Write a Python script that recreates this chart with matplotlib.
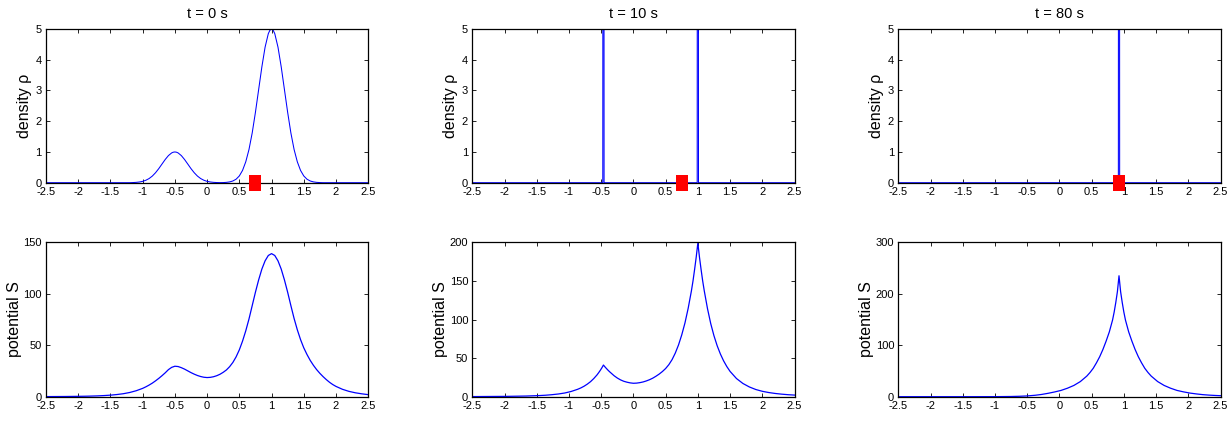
import matplotlib
matplotlib.use("Agg")
import matplotlib.pyplot as plt

plt.rcParams['font.family'] = ['Liberation Sans', 'DejaVu Sans']
plt.rcParams['axes.unicode_minus'] = False

titles = ['t = 0 s', 't = 10 s', 't = 80 s']

# density rho, t = 0
rho0_x = [-2.5, -1.2, -1.15, -1.1, -1.05, -1.0, -0.95, -0.9, -0.85, -0.8, -0.75, -0.7,
          -0.65, -0.6, -0.55, -0.525, -0.5, -0.475, -0.45, -0.4, -0.35, -0.3, -0.25, -0.2,
          -0.15, -0.1, -0.05, 0.0, 0.05, 0.1, 0.15, 0.2, 0.25, 0.3, 0.35, 0.4, 0.45, 0.5,
          0.55, 0.6, 0.65, 0.7, 0.75, 0.8, 0.85, 0.9, 0.95, 0.975, 1.0, 1.025, 1.05, 1.1,
          1.15, 1.2, 1.25, 1.3, 1.35, 1.4, 1.45, 1.5, 1.55, 1.6, 1.65, 1.7, 1.75, 1.8, 2.5]
rho0_y = [0, 0, 0.005, 0.011, 0.023, 0.044, 0.08, 0.135, 0.216, 0.325, 0.458, 0.607,
          0.755, 0.882, 0.969, 0.992, 1.0, 0.992, 0.969, 0.882, 0.755, 0.607, 0.458, 0.325,
          0.216, 0.135, 0.08, 0.044, 0.023, 0.011, 0.005, 0.002, 0.004, 0.011, 0.026, 0.056, 0.114, 0.22,
          0.40, 0.68, 1.08, 1.62, 2.29, 3.03, 3.77, 4.41, 4.85, 4.96, 5.0, 4.96, 4.85, 4.41,
          3.77, 3.03, 2.29, 1.62, 1.08, 0.68, 0.40, 0.22, 0.114, 0.056, 0.026, 0.011, 0.004, 0, 0]

# density rho, t = 10 (two collapsed spikes)
rho10_x = [-2.5, -0.475, -0.465, -0.455, 0.99, 1.0, 1.01, 2.5]
rho10_y = [0, 0, 60, 0, 0, 60, 0, 0]

# density rho, t = 80 (one spike)
rho80_x = [-2.5, 0.915, 0.925, 0.935, 2.5]
rho80_y = [0, 0, 60, 0, 0]

# potential S, t = 0
s0_x = [-2.5, -2.2, -2.0, -1.9, -1.8, -1.7, -1.6, -1.5, -1.4, -1.3, -1.2, -1.1,
        -1.0, -0.95, -0.9, -0.85, -0.8, -0.75, -0.7, -0.65, -0.6, -0.55, -0.5, -0.45,
        -0.4, -0.35, -0.3, -0.25, -0.2, -0.15, -0.1, -0.05, 0.0, 0.05, 0.1, 0.15,
        0.2, 0.25, 0.3, 0.35, 0.4, 0.45, 0.5, 0.55, 0.6, 0.65, 0.7, 0.75,
        0.8, 0.85, 0.9, 0.95, 1.0, 1.05, 1.1, 1.15, 1.2, 1.25, 1.3, 1.35,
        1.4, 1.45, 1.5, 1.55, 1.6, 1.65, 1.7, 1.75, 1.8, 1.85, 1.9, 1.95,
        2.0, 2.1, 2.2, 2.3, 2.4, 2.5]
s0_y = [0.1, 0.2, 0.35, 0.45, 0.6, 0.8, 1.1, 1.5, 2.1, 2.9, 4.1, 5.8,
        8.1, 9.6, 11.3, 13.2, 15.4, 17.8, 20.4, 23.2, 26.3, 28.5, 29.6, 29.3,
        28.2, 26.8, 25.1, 23.4, 21.9, 20.6, 19.6, 18.9, 18.6, 18.8, 19.4, 20.4,
        21.8, 23.7, 26.0, 29.2, 33.3, 38.7, 45.5, 54.0, 64.0, 75.5, 88.5, 101.5,
        113.5, 124.0, 132.0, 137.2, 139.0, 137.2, 132.0, 124.0, 113.5, 101.5, 88.5, 76.0,
        65.0, 55.5, 47.5, 41.0, 35.3, 30.5, 26.3, 22.7, 19.5, 16.6, 14.0, 11.8,
        10.0, 7.2, 5.2, 3.8, 2.8, 2.0]

# potential S, t = 10
s10_x = [-2.5, -1.965, -1.665, -1.465, -1.365, -1.265, -1.165, -1.065, -0.965, -0.865,
         -0.815, -0.765, -0.715, -0.665, -0.615, -0.565, -0.54, -0.515, -0.49, -0.465,
         -0.44, -0.415, -0.39, -0.365, -0.3, -0.25, -0.2, -0.15, -0.1, -0.05, 0.0, 0.05,
         0.1, 0.15, 0.2, 0.25, 0.3, 0.35, 0.4, 0.45, 0.5, 0.55, 0.6, 0.65, 0.7, 0.75,
         0.8, 0.85, 0.9, 0.925, 0.95, 0.975, 1.0, 1.025, 1.05, 1.075, 1.1, 1.15, 1.2,
         1.25, 1.3, 1.35, 1.4, 1.45, 1.5, 1.6, 1.7, 1.8, 1.9, 2.0, 2.1, 2.2, 2.3, 2.4, 2.5]
s10_y = [0.15, 0.43, 0.86, 1.45, 1.9, 2.6, 3.5, 4.8, 6.8, 9.6,
         11.4, 13.6, 16.3, 19.5, 23.5, 28.2, 31.0, 34.0, 37.3, 41.0,
         38.5, 36.2, 34.0, 32.0, 27.2, 24.2, 21.8, 20.0, 18.8, 17.9, 17.4, 17.6,
         18.2, 19.1, 20.4, 22.0, 24.0, 26.5, 29.3, 32.6, 36.5, 41.5, 48.0, 56.5, 67.0, 80.0,
         95.5, 114.5, 137.0, 150.0, 165.0, 181.0, 199.0, 181.0, 165.0, 150.0, 137.0, 114.0, 94.7,
         79.0, 66.0, 55.3, 46.4, 39.0, 32.8, 23.5, 17.1, 12.6, 9.3, 7.0, 5.4, 4.2, 3.3, 2.6, 2.1]

# potential S, t = 80
s80_x = [-2.5, -1.5, -1.0, -0.75, -0.625, -0.5, -0.375, -0.275, -0.175, -0.075, 0.025,
         0.125, 0.225, 0.325, 0.425, 0.475, 0.525, 0.575, 0.625, 0.675, 0.725, 0.775,
         0.825, 0.85, 0.875, 0.9, 0.925, 0.95, 0.975, 1.0, 1.025, 1.075, 1.125, 1.175,
         1.225, 1.275, 1.325, 1.375, 1.425, 1.525, 1.625, 1.725, 1.825, 1.925, 2.025,
         2.125, 2.225, 2.325, 2.425, 2.5]
s80_y = [0, 0, 0.1, 0.4, 0.8, 1.5, 2.8, 4.4, 6.6, 9.2, 12.2,
         16.5, 21.9, 29.4, 40.0, 47.0, 55.2, 65.8, 77.6, 91.7, 108.0, 126.0,
         149.0, 164.5, 183.0, 204.0, 235.0, 204.0, 183.0, 164.5, 149.0, 126.0, 108.0, 91.7,
         77.6, 65.8, 55.2, 47.0, 40.0, 29.4, 21.9, 16.5, 12.2, 9.4, 7.05,
         5.4, 4.0, 3.05, 2.35, 1.95]

# moving red marker position
marker_x = [0.75, 0.75, 0.92]

rho_data = [(rho0_x, rho0_y), (rho10_x, rho10_y), (rho80_x, rho80_y)]
s_data = [(s0_x, s0_y), (s10_x, s10_y), (s80_x, s80_y)]
s_ylim = [150, 200, 300]
s_yticks = [[0, 50, 100, 150], [0, 50, 100, 150, 200], [0, 100, 200, 300]]
xticks = [-2.5, -2, -1.5, -1, -0.5, 0, 0.5, 1, 1.5, 2, 2.5]

W, H = 1231, 421
fig = plt.figure(figsize=(W / 100, H / 100), dpi=100)

lefts = [46, 472.3, 898.3]
aw = 322.2


def style(ax):
    ax.set_xlim(-2.5, 2.5)
    ax.set_xticks(xticks)
    ax.set_xticklabels([('%g' % v) for v in xticks])
    ax.tick_params(direction='in', length=3, width=0.6, top=True, right=True,
                   labelsize=8, pad=3, colors='black')
    for sp in ax.spines.values():
        sp.set_linewidth(0.9)


# red box marker, a bit taller than wide
box = [(-0.69, -1), (0.69, -1), (0.69, 1), (-0.69, 1), (-0.69, -1)]

for i in range(3):
    ax = fig.add_axes([lefts[i] / W, 1 - 182.7 / H, aw / W, 153.7 / H])
    x, y = rho_data[i]
    ax.plot(x, y, color='#0000ff', lw=0.75)
    ax.plot([marker_x[i]], [0], marker=box, markersize=11.5, color='red',
            markeredgewidth=0, linestyle='none', clip_on=False, zorder=5)
    ax.set_ylim(0, 5)
    ax.set_yticks([0, 1, 2, 3, 4, 5])
    style(ax)
    ax.set_ylabel('density ρ', fontsize=11.5)
    ax.yaxis.set_label_coords(-0.045, 0.5)
    ax.set_title(titles[i], fontsize=10.5, pad=8)

    ax = fig.add_axes([lefts[i] / W, 1 - 396.7 / H, aw / W, 154.4 / H])
    x, y = s_data[i]
    ax.plot(x, y, color='#0000ff', lw=0.9)
    ax.set_ylim(0, s_ylim[i])
    ax.set_yticks(s_yticks[i])
    style(ax)
    ax.set_ylabel('potential S', fontsize=11.5)
    ax.yaxis.set_label_coords(-0.074, 0.5)

fig.savefig('out.png', dpi=100)
